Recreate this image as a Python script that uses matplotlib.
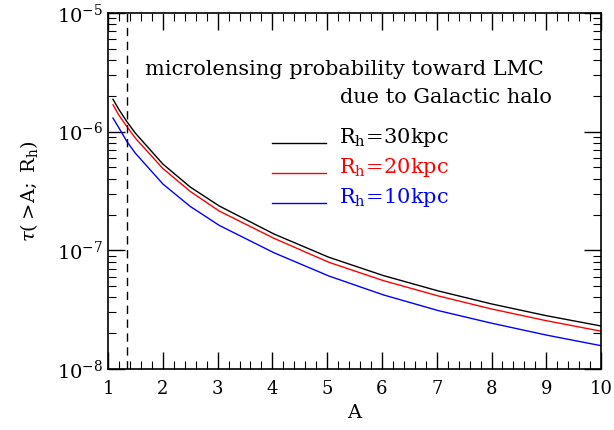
import matplotlib
matplotlib.use('Agg')
import matplotlib.pyplot as plt
import numpy as np
from matplotlib.ticker import MultipleLocator, LogLocator, NullFormatter

plt.rcParams['font.family'] = ['DejaVu Serif']
plt.rcParams['mathtext.fontset'] = 'dejavuserif'

# values
A = [1.09, 1.2, 1.345, 1.5, 2.0, 2.5, 3.03, 4.03, 5.03, 6.03, 7.03, 8.0, 9.0, 10.0]
tau_30 = [1.87e-6, 1.53e-6, 1.21e-6, 9.68e-7, 5.33e-7, 3.41e-7, 2.36e-7, 1.37e-7,
          8.73e-8, 6.11e-8, 4.54e-8, 3.53e-8, 2.81e-8, 2.30e-8]
tau_20 = [1.68e-6, 1.37e-6, 1.10e-6, 8.78e-7, 4.89e-7, 3.13e-7, 2.14e-7, 1.26e-7,
          7.92e-8, 5.54e-8, 4.12e-8, 3.20e-8, 2.55e-8, 2.08e-8]
tau_10 = [1.30e-6, 1.07e-6, 8.22e-7, 6.56e-7, 3.62e-7, 2.34e-7, 1.62e-7, 9.52e-8,
          6.07e-8, 4.20e-8, 3.10e-8, 2.43e-8, 1.93e-8, 1.57e-8]
A_cut = 1.34
series = [(tau_30, 'black', r'$\mathrm{R_h\!=\!30kpc}$'),
          (tau_20, 'red', r'$\mathrm{R_h\!=\!20kpc}$'),
          (tau_10, 'blue', r'$\mathrm{R_h\!=\!10kpc}$')]

fig = plt.figure(figsize=(6.14, 4.3), dpi=100)
ax = fig.add_axes([0.176, 0.142, 0.803, 0.828])
ax.set_yscale('log')
ax.set_xlim(1, 10); ax.set_ylim(1e-8, 1e-5)

for y, c, lab in series:
    ax.plot(A, y, color=c, lw=1.0)
ax.axvline(A_cut, color='black', lw=1.0, dashes=(6, 4))

# in-plot legend drawn by hand, like the original
for i, (y, c, lab) in enumerate(series):
    yy = 0.635 - i * 0.084
    ax.plot([0.333, 0.443], [yy, yy], color=c, lw=1.0, transform=ax.transAxes)
    ax.text(0.468, yy + 0.014, lab, color=c, fontsize=15, va='center', transform=ax.transAxes)

ax.text(0.48, 0.84, 'microlensing probability toward LMC', fontsize=15,
        ha='center', va='center', transform=ax.transAxes)
ax.text(0.901, 0.762, 'due to Galactic halo', fontsize=15,
        ha='right', va='center', transform=ax.transAxes)

ax.xaxis.set_major_locator(MultipleLocator(1))
ax.xaxis.set_minor_locator(MultipleLocator(0.2))
ax.yaxis.set_major_locator(LogLocator(base=10, numticks=10))
ax.yaxis.set_minor_locator(LogLocator(base=10, subs=np.arange(2, 10), numticks=10))
ax.yaxis.set_minor_formatter(NullFormatter())
ax.tick_params(which='both', direction='in', top=True, right=True, labelsize=14)
ax.tick_params(axis='x', labelsize=13)
ax.tick_params(which='major', length=12, width=1)
ax.tick_params(which='minor', length=6, width=0.8)
ax.tick_params(axis='x', pad=8)
for s in ax.spines.values():
    s.set_linewidth(1.2)

ax.set_xlabel('A', fontsize=14, labelpad=4)
ax.set_ylabel(r'$\tau(>\!\mathrm{A;\ R_h})$', fontsize=14, labelpad=12)

fig.savefig('out.png', dpi=100)
